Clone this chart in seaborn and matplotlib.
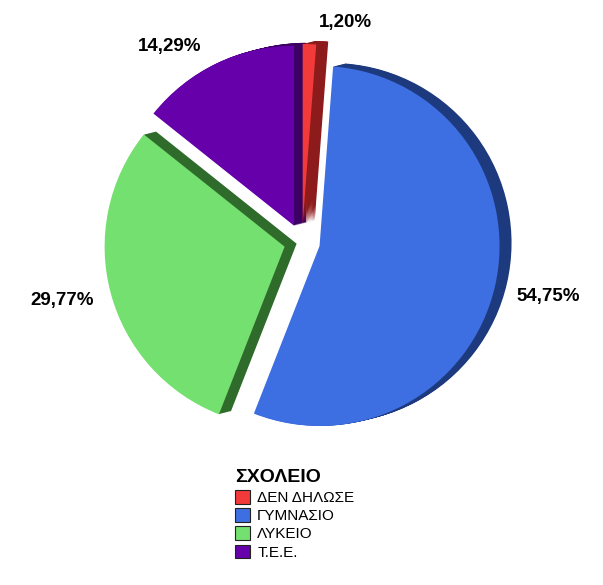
import matplotlib
matplotlib.use("Agg")
import matplotlib.pyplot as plt
import seaborn as sns
from matplotlib.patches import Patch

# ---- data ----
categories = ["ΔΕΝ ΔΗΛΩΣΕ", "ΓΥΜΝΑΣΙΟ", "ΛΥΚΕΙΟ", "Τ.Ε.Ε."]
percentages = [1.20, 54.75, 29.77, 14.29]
legend_title = "ΣΧΟΛΕΙΟ"

face_colors = ["#F23A3A", "#3D6FE2", "#74E06F", "#6600AA"]
side_colors = ["#8E1B1B", "#1E3A7E", "#2F6B2B", "#3A0062"]

sns.set_theme(style="white")
plt.rcParams["font.family"] = ["Liberation Sans", "DejaVu Sans"]
plt.rcParams["text.color"] = "black"

W, H, DPI = 603, 585, 100
fig = plt.figure(figsize=(W / DPI, H / DPI), dpi=DPI)
ax = fig.add_axes([0, 0, 1, 1])

# pixel geometry of the pie
cx_px, cy_px, R_px = 302, 242, 180
explode = [0.1] * len(percentages)

# 3D side (extrusion) drawn as stacked offset pies
steps = 14
dx_tot, dy_tot = 12 / R_px, 3 / R_px
for k in range(steps, 0, -1):
    f = k / steps
    ax.pie(percentages, explode=explode, colors=side_colors, startangle=90,
           counterclock=False, radius=1.0, center=(dx_tot * f, dy_tot * f),
           wedgeprops=dict(linewidth=0), normalize=True)

wedges, _ = ax.pie(percentages, explode=explode, colors=face_colors, startangle=90,
                   counterclock=False, radius=1.0, center=(0, 0),
                   wedgeprops=dict(linewidth=0), normalize=True)

ax.set_aspect("auto")
ax.set_xlim(-cx_px / R_px, (W - cx_px) / R_px)
ax.set_ylim((cy_px - H) / R_px, cy_px / R_px)
ax.axis("off")

# percentage labels (pixel positions of label centres)
label_px = [(345, 22), (548, 297), (62, 300), (170, 47)]
for v, (px, py) in zip(percentages, label_px):
    txt = f"{v:.2f}%".replace(".", ",")
    ax.text((px - cx_px) / R_px, (cy_px - py) / R_px, txt, ha="center", va="center",
            fontsize=13.5, fontweight="bold", color="black")

handles = [Patch(facecolor=c, edgecolor="#222222", linewidth=0.8) for c in face_colors]
leg = fig.legend(handles, categories, title=legend_title, loc="upper left",
                 bbox_to_anchor=(235 / W, 1 - 469 / H), frameon=False,
                 fontsize=11, title_fontsize=14, handlelength=1.0, handleheight=1.0,
                 handletextpad=0.45, labelspacing=0.2, borderpad=0, borderaxespad=0,
                 alignment="left", labelcolor="black")
leg.get_title().set_fontweight("bold")
leg.get_title().set_color("black")
leg._legend_box.sep = 3

fig.savefig("out.png", dpi=DPI)
